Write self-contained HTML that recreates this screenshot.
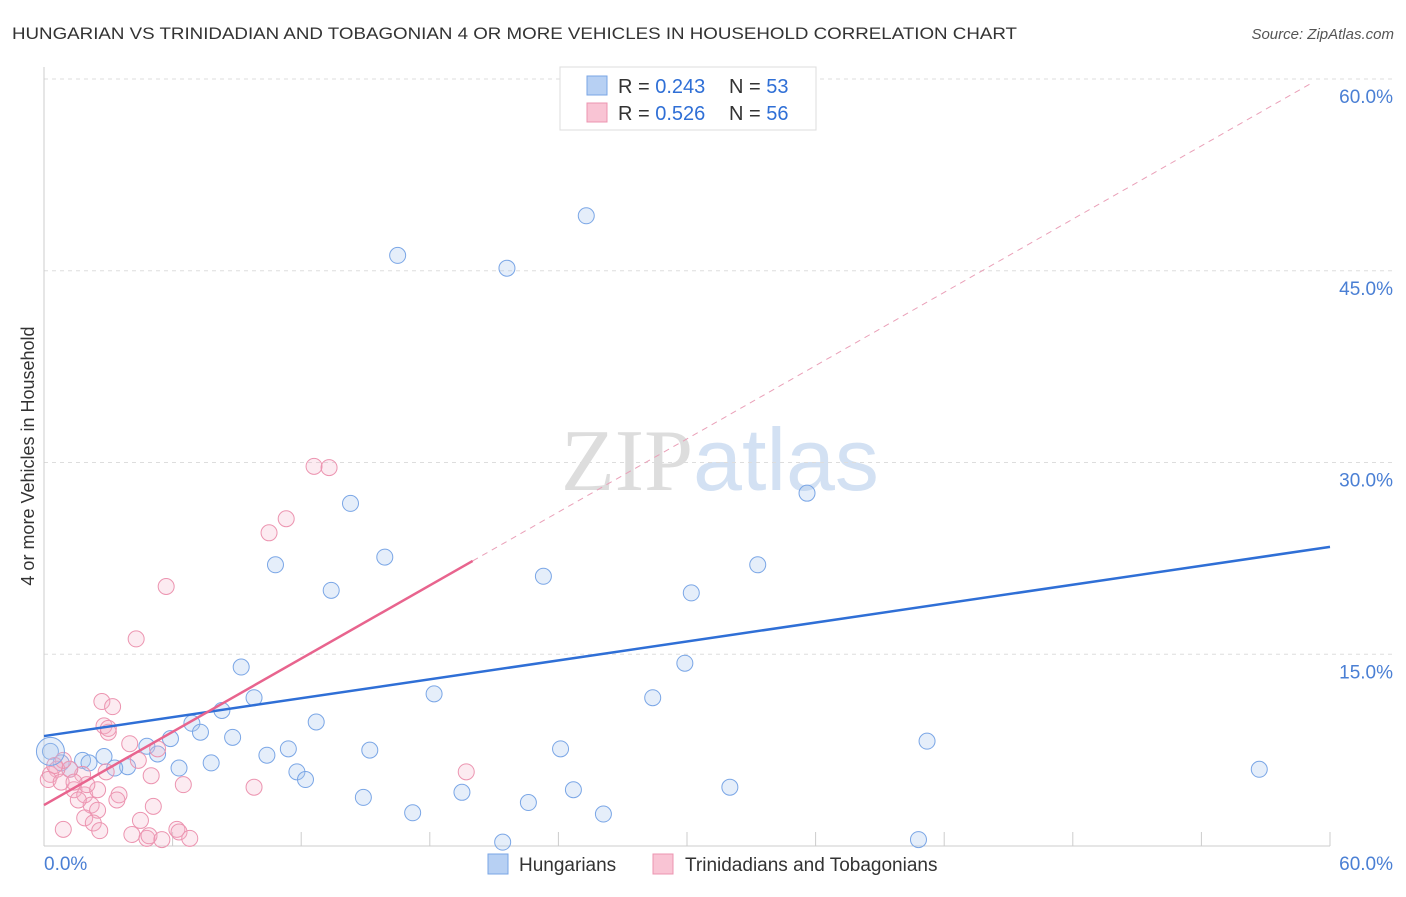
<!DOCTYPE html>
<html><head><meta charset="utf-8"><style>
body{margin:0;background:#fff;font-family:"Liberation Sans",sans-serif;}
svg text{font-family:"Liberation Sans",sans-serif;}
</style></head><body>
<svg id="chart" width="1406" height="892" xmlns="http://www.w3.org/2000/svg">
<text x="12" y="39" font-size="17" fill="#333" textLength="1005" lengthAdjust="spacingAndGlyphs">HUNGARIAN VS TRINIDADIAN AND TOBAGONIAN 4 OR MORE VEHICLES IN HOUSEHOLD CORRELATION CHART</text>
<text x="1394" y="39" font-size="15" fill="#555" text-anchor="end" font-style="italic">Source: ZipAtlas.com</text>
<text x="720" y="490" font-size="88" text-anchor="middle"><tspan fill="#ddd" font-family="Liberation Serif">ZIP</tspan><tspan fill="#d3e1f3">atlas</tspan></text>
<g id="grid"></g>
<line x1="44" y1="67" x2="44" y2="846" stroke="#ccc"/>
<line x1="44" y1="846" x2="1330" y2="846" stroke="#ccc"/>
<text transform="translate(34,456) rotate(-90)" font-size="18" fill="#333" text-anchor="middle">4 or more Vehicles in Household</text>
<text x="44" y="870" font-size="19" fill="#4a7fd4">0.0%</text>
<text x="1393" y="870" font-size="19" fill="#4a7fd4" text-anchor="end">60.0%</text>
<g id="points"></g>
<g id="lines"></g>
<g>
<rect x="560" y="67" width="256" height="63" fill="#fff" stroke="#ddd"/>
<rect x="587" y="76" width="20" height="19" fill="#b7d0f3" stroke="#7aa6e6"/>
<rect x="587" y="103" width="20" height="19" fill="#f9c4d4" stroke="#ec94b0"/>
<text x="618" y="93" font-size="20" fill="#333">R = <tspan fill="#2f6fd6">0.243</tspan></text>
<text x="729" y="93" font-size="20" fill="#333">N = <tspan fill="#2f6fd6">53</tspan></text>
<text x="618" y="120" font-size="20" fill="#333">R = <tspan fill="#2f6fd6">0.526</tspan></text>
<text x="729" y="120" font-size="20" fill="#333">N = <tspan fill="#2f6fd6">56</tspan></text>
</g>
<g>
<rect x="488" y="854" width="20" height="20" fill="#b7d0f3" stroke="#7aa6e6"/>
<text x="519" y="871" font-size="19" fill="#333">Hungarians</text>
<rect x="653" y="854" width="20" height="20" fill="#f9c4d4" stroke="#ec94b0"/>
<text x="685" y="871" font-size="19" fill="#333">Trinidadians and Tobagonians</text>
</g>
</svg>
<script>
const yTicks=[15,30,45,60];
const blueX=[25.3,16.5,21.6,33.9,14.3,35.6,15.9,10.8,23.3,13.4,33.3,30.2,9.2,29.9,9.8,18.2,28.4,8.3,12.7,6.9,7.3,5.9,8.8,4.8,5.3,11.4,15.2,10.4,24.1,41.2,6.3,7.8,3.9,2.8,1.8,0.8,11.8,12.2,14.9,19.5,24.7,32.0,22.6,17.2,26.1,21.4,40.8,56.7,0.3,1.2,2.1,3.3];
const blueY=[49.3,46.2,45.2,58.3,26.8,27.6,22.6,22.0,21.1,20.0,22.0,19.8,14.0,14.3,11.6,11.9,11.6,10.6,9.7,9.6,8.9,8.4,8.5,7.8,7.2,7.6,7.5,7.1,7.6,8.2,6.1,6.5,6.2,7.0,6.7,6.5,5.8,5.2,3.8,4.2,4.4,4.6,3.4,2.6,2.5,0.3,0.5,6.0,7.4,6.0,6.5,6.1];
const pinkX=[12.6,13.3,11.3,10.5,5.7,4.3,2.7,3.2,2.8,3.0,4.0,5.3,4.4,2.9,1.8,1.2,0.6,0.3,0.2,0.8,1.4,1.9,2.5,3.5,3.4,5.1,2.2,2.5,1.9,2.3,2.6,0.9,4.5,9.8,6.5,5.0,19.7,4.1,4.8,6.2,6.3,4.9,5.5,6.8,3.0,1.6,0.9,0.5,2.0,1.4];
const pinkY=[29.7,29.6,25.6,24.5,20.3,16.2,11.3,10.9,9.4,8.9,8.0,7.6,6.7,5.8,5.6,6.0,6.0,5.6,5.2,5.0,4.4,4.0,4.4,4.0,3.6,3.1,3.2,2.8,2.2,1.8,1.2,1.3,2.0,4.6,4.8,5.5,5.8,0.9,0.6,1.3,1.1,0.8,0.5,0.6,9.2,3.6,6.7,6.3,4.8,5.0];
const blueLine=[8.6,23.4];
const pinkLine=[3.2,22.3];
const pinkLineEnd=20;
const X=v=>44+v*(1286/60), Y=v=>846-v*(767/60);
const NS="http://www.w3.org/2000/svg";
function mk(t,a,p){const e=document.createElementNS(NS,t);for(const k in a)e.setAttribute(k,a[k]);p.appendChild(e);return e;}
const grid=document.getElementById('grid');
yTicks.forEach(t=>{
 const l=mk('line',{x1:44,x2:1394,y1:Y(t),y2:Y(t),stroke:'#ddd','stroke-dasharray':'4,4'},grid);
 
 
 const tx=mk('text',{x:1393,y:Y(t)+24,'font-size':19,fill:'#4a7fd4','text-anchor':'end'},grid);
 tx.textContent=t.toFixed(1)+'%';
 
 
});
for(let i=0;i<=10;i++){const v=i*6;
 const l=mk('line',{x1:X(v),x2:X(v),y1:832,y2:846,stroke:'#ccc'},grid);
 
 
}
const pts=document.getElementById('points');
blueX.forEach((x,i)=>{
 const c=mk('circle',{cx:X(x),cy:Y(blueY[i]),r:8,fill:'rgba(170,200,240,0.3)',stroke:'#7aa6e6','stroke-width':1},pts);
 
 
});
pinkX.forEach((x,i)=>{
 const c=mk('circle',{cx:X(x),cy:Y(pinkY[i]),r:8,fill:'rgba(245,175,200,0.25)',stroke:'#ec94b0','stroke-width':1},pts);
 
 
});
const big=mk('circle',{cx:X(0.3),cy:Y(7.4),r:14,fill:'rgba(170,200,240,0.3)',stroke:'#7aa6e6'},pts);


const ln=document.getElementById('lines');
const slope=(pinkLine[1]-pinkLine[0])/pinkLineEnd;
const d=mk('line',{x1:X(pinkLineEnd),y1:Y(pinkLine[1]),x2:X(59.2),y2:Y(pinkLine[0]+slope*59.2),stroke:'#eaa0b8','stroke-dasharray':'6,5','stroke-width':1},ln);


const b=mk('line',{x1:X(0),y1:Y(blueLine[0]),x2:X(60),y2:Y(blueLine[1]),stroke:'#2f6fd6','stroke-width':2.5},ln);


const p=mk('line',{x1:X(0),y1:Y(pinkLine[0]),x2:X(pinkLineEnd),y2:Y(pinkLine[1]),stroke:'#e8648e','stroke-width':2.5},ln);


</script>
</body></html>
